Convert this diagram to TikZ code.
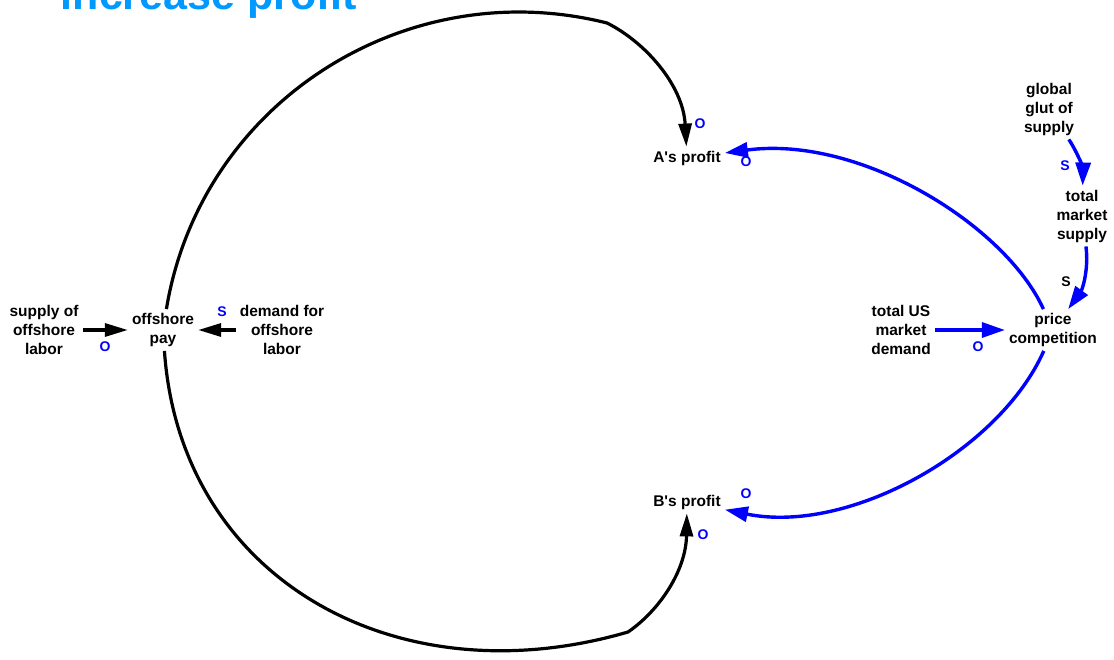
\documentclass[tikz,border=0pt]{standalone}
\usepackage{fontspec}
\setmainfont{Liberation Sans}
\usetikzlibrary{arrows.meta}
\definecolor{titleblue}{HTML}{0099FF}

\begin{document}
\begin{tikzpicture}[x=1pt,y=-1pt,every node/.style={align=center,inner sep=4pt,font=\fontsize{15.5}{19}\selectfont\bfseries},
blacklink/.style={line width=3.2pt,draw=black,-{Triangle[length=23pt,width=13pt]}},
bluelink/.style={line width=3.4pt,draw=blue,-{Triangle[length=23pt,width=15pt]}},
sign/.style={text=blue,inner sep=0pt,font=\fontsize{14}{14}\selectfont\bfseries},
title/.style={text=titleblue,inner sep=0pt,font=\fontsize{43}{43}\selectfont\bfseries}]

\useasboundingbox (0,0) rectangle (1114,660);
\node [title,anchor=base] (title) at (209,10) {increase profit};

\node (Aprofit) at (687,158) {A\textquotesingle s profit};
\node (Bprofit) at (687,502) {B\textquotesingle s profit};
\node (pay) at (163,330) {offshore\\pay};
\node (supply) at (44,330) {supply of\\offshore\\labor};
\node (demand) at (282,330) {demand for\\offshore\\labor};
\node (usdemand) at (901,330) {total US\\market\\demand};
\node (price) at (1053,330) {price\\competition};
\node (glut) at (1049,109) {global\\glut of\\supply};
\node (mktsupply) at (1082,216) {total\\market\\supply};

\coordinate (kinkA) at (607,23);
\coordinate (kinkB) at (628,632);

    \draw[blacklink] (supply) -- (pay);
    \draw[blacklink] (demand) -- (pay);
    \draw[blacklink] (pay) .. controls (200,104) and (404,-28) .. (kinkA) .. controls (645,42) and (683,85) .. (Aprofit);
    \draw[blacklink] (pay) .. controls (180,578) and (395,700) .. (kinkB) .. controls (660,610) and (686,570) .. (Bprofit);
    \draw[bluelink] (usdemand) -- (price);
    \draw[bluelink] (glut) .. controls (1079,155) and (1083,170) .. (mktsupply);
    \draw[bluelink] (mktsupply) .. controls (1089,270) and (1082,290) .. (price);
    \draw[bluelink] (price) .. controls (1005,225) and (860,135) .. (Aprofit);
    \draw[bluelink] (price) .. controls (1000,450) and (850,535) .. (Bprofit);

\node [sign] (signsupply) at (105,347) {O};
\node [sign] (signdemand) at (222,312) {S};
\node [sign] (signus) at (978,347) {O};
\node [sign] (signglut) at (1065,166) {S};
\node [sign,text=black] (signmkt) at (1066,282) {S};
\node [sign] (signpayA) at (700,124) {O};
\node [sign] (signpriceA) at (746,162) {O};
\node [sign] (signpriceB) at (746,494) {O};
\node [sign] (signpayB) at (703,535) {O};

\end{tikzpicture}
\end{document}
